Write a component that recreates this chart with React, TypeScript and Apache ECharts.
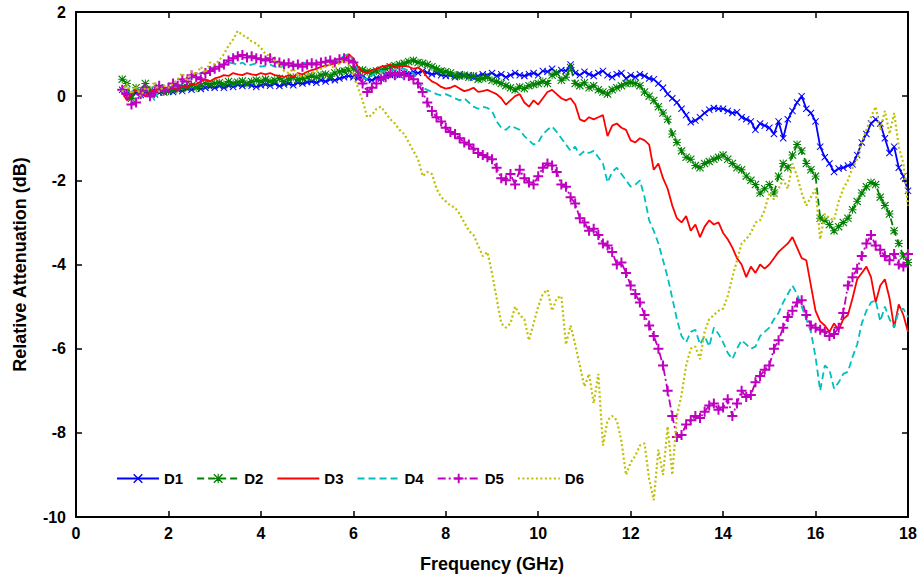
import React, { useEffect, useRef } from "react";
import * as echarts from "echarts";

// Frequency grid (GHz): 1.0 to 18.0, step 0.1
const freqs: number[] = Array.from({ length: 171 }, (_, i) => Math.round((1 + i * 0.1) * 10) / 10);

const seriesNames = ["D1", "D2", "D3", "D4", "D5", "D6"];

const d1 = [
  0.15, 0.05, 0.0, 0.08, 0.03, 0.1, 0.05, 0.12, 0.08, 0.1, 0.12,
  0.1, 0.15, 0.12, 0.18, 0.15, 0.2, 0.17, 0.2, 0.22, 0.2,
  0.24, 0.2, 0.25, 0.22, 0.27, 0.24, 0.28, 0.25, 0.22, 0.26,
  0.28, 0.25, 0.3, 0.24, 0.28, 0.3, 0.26, 0.32, 0.3, 0.33,
  0.35, 0.32, 0.38, 0.35, 0.4, 0.38, 0.42, 0.45, 0.48, 0.45,
  0.42, 0.46, 0.4, 0.38, 0.44, 0.42, 0.48, 0.5, 0.52, 0.5,
  0.55, 0.52, 0.58, 0.55, 0.6, 0.56, 0.52, 0.55, 0.5, 0.48,
  0.5, 0.45, 0.52, 0.48, 0.5, 0.44, 0.48, 0.52, 0.5, 0.55,
  0.48, 0.52, 0.45, 0.5, 0.55, 0.5, 0.48, 0.52, 0.55, 0.5,
  0.6, 0.58, 0.65, 0.55, 0.62, 0.6, 0.75, 0.55, 0.5, 0.58,
  0.52, 0.48, 0.55, 0.6, 0.5, 0.45, 0.52, 0.55, 0.42, 0.5,
  0.45, 0.52, 0.48, 0.42, 0.4, 0.3, 0.2, 0.05, -0.05, -0.15,
  -0.3, -0.45, -0.62, -0.58, -0.5, -0.4, -0.32, -0.28, -0.3, -0.3,
  -0.35, -0.4, -0.38, -0.5, -0.55, -0.6, -0.8, -0.65, -0.7, -0.75,
  -0.9, -0.6, -1.0, -0.55, -0.35, -0.15, 0.0, -0.3, -0.4, -0.6,
  -1.2, -1.45, -1.6, -1.8, -1.72, -1.7, -1.65, -1.62, -1.4, -1.1,
  -0.9, -0.65, -0.55, -0.65, -1.0, -1.35, -1.2, -1.7, -1.9, -2.25,
];

const d2 = [
  0.4, 0.3, -0.05, 0.2, 0.1, 0.3, 0.15, 0.05, 0.2, 0.1, 0.12,
  0.15, 0.18, 0.2, 0.22, 0.25, 0.2, 0.25, 0.3, 0.28, 0.3,
  0.32, 0.28, 0.35, 0.3, 0.33, 0.36, 0.3, 0.35, 0.38, 0.35,
  0.4, 0.35, 0.38, 0.42, 0.35, 0.4, 0.45, 0.4, 0.42, 0.45,
  0.48, 0.45, 0.5, 0.52, 0.48, 0.55, 0.58, 0.6, 0.62, 0.65,
  0.6, 0.62, 0.58, 0.55, 0.6, 0.62, 0.65, 0.7, 0.72, 0.75,
  0.78, 0.82, 0.85, 0.8, 0.78, 0.75, 0.7, 0.65, 0.6, 0.58,
  0.55, 0.5, 0.48, 0.5, 0.45, 0.48, 0.4, 0.42, 0.45, 0.38,
  0.35, 0.3, 0.25, 0.2, 0.15, 0.22, 0.18, 0.25, 0.28, 0.3,
  0.35, 0.3, 0.5, 0.55, 0.38, 0.45, 0.68, 0.3, 0.25, 0.32,
  0.2, 0.25, 0.15, 0.1, 0.05, 0.15, 0.2, 0.25, 0.3, 0.32,
  0.3, 0.25, 0.1, 0.0, -0.1, -0.25, -0.4, -0.55, -0.9, -1.1,
  -1.3, -1.45, -1.5, -1.65, -1.7, -1.6, -1.55, -1.5, -1.45, -1.4,
  -1.5, -1.6, -1.7, -1.75, -1.9, -2.0, -2.1, -2.3, -2.2, -2.1,
  -2.3, -1.9, -1.6, -1.7, -1.4, -1.15, -1.3, -1.6, -1.75, -1.9,
  -2.9, -2.95, -3.05, -3.2, -3.1, -3.0, -2.9, -2.7, -2.5, -2.3,
  -2.15, -2.05, -2.1, -2.4, -2.6, -2.8, -3.2, -3.5, -3.8, -3.95,
];

const d3 = [
  0.1, -0.1, 0.05, 0.15, 0.05, 0.0, 0.1, 0.15, 0.12, 0.15, 0.2,
  0.18, 0.15, 0.25, 0.2, 0.3, 0.28, 0.35, 0.4, 0.35, 0.42,
  0.45, 0.5, 0.48, 0.55, 0.52, 0.5, 0.55, 0.52, 0.5, 0.55,
  0.52, 0.55, 0.5, 0.48, 0.45, 0.5, 0.45, 0.55, 0.52, 0.58,
  0.62, 0.65, 0.7, 0.72, 0.75, 0.78, 0.8, 0.85, 1.0, 0.9,
  0.7, 0.58, 0.55, 0.62, 0.65, 0.7, 0.72, 0.75, 0.68, 0.7,
  0.72, 0.7, 0.65, 0.68, 0.6, 0.45, 0.35, 0.3, 0.22, 0.18,
  0.2, 0.25, 0.18, 0.12, 0.15, 0.2, 0.1, 0.12, 0.15, 0.1,
  0.05, -0.05, -0.2, -0.1, 0.0, 0.05, -0.15, -0.25, -0.1, -0.2,
  -0.05, 0.1, 0.15, 0.05, -0.05, -0.1, -0.05, -0.2, -0.55, -0.6,
  -0.5, -0.55, -0.5, -0.45, -0.95, -0.7, -0.65, -0.75, -0.8, -1.05,
  -1.1, -1.0, -1.05, -1.15, -1.75, -1.6, -1.95, -2.2, -2.6, -2.9,
  -3.0, -2.85, -3.2, -3.05, -3.35, -3.1, -2.95, -3.05, -3.0, -3.25,
  -3.4, -3.6, -3.85, -4.0, -4.3, -4.05, -4.2, -4.0, -4.1, -4.0,
  -3.85, -3.7, -3.6, -3.5, -3.35, -3.6, -3.85, -3.9, -4.5, -5.1,
  -5.35, -5.45, -5.6, -5.4, -5.55, -5.3, -5.2, -4.8, -4.35, -4.2,
  -4.05, -4.3, -4.9, -4.5, -4.35, -4.8, -5.5, -4.95, -5.2, -5.6,
];

const d4 = [
  0.2, 0.0, 0.1, 0.2, 0.05, 0.15, 0.1, -0.1, 0.2, 0.15, 0.2,
  0.25, 0.2, 0.3, 0.4, 0.45, 0.5, 0.55, 0.6, 0.65, 0.7,
  0.72, 0.75, 0.8, 0.78, 0.75, 0.8, 0.72, 0.75, 0.78, 0.7,
  0.72, 0.75, 0.7, 0.68, 0.72, 0.75, 0.7, 0.72, 0.78, 0.8,
  0.75, 0.78, 0.82, 0.8, 0.85, 0.82, 0.9, 0.95, 1.0, 0.85,
  0.6, 0.45, 0.4, 0.5, 0.55, 0.6, 0.58, 0.62, 0.6, 0.65,
  0.65, 0.6, 0.55, 0.35, 0.2, 0.15, 0.1, 0.05, 0.02, 0.05,
  0.0, -0.05, -0.1, -0.05, -0.15, -0.25, -0.3, -0.25, -0.28, -0.35,
  -0.6, -0.75, -0.8, -0.7, -0.75, -0.8, -0.95, -1.05, -1.15, -1.1,
  -0.9, -0.8, -0.72, -0.85, -1.0, -1.15, -1.3, -1.2, -1.4, -1.3,
  -1.35, -1.3, -1.45, -1.6, -2.05, -1.8, -1.7, -1.85, -2.0, -2.15,
  -2.1, -2.0, -2.4, -2.95, -3.2, -3.5, -3.9, -4.3, -4.8, -5.3,
  -5.7, -5.85, -5.6, -5.55, -5.9, -5.7, -5.95, -5.5, -5.65, -5.85,
  -6.1, -6.25, -6.0, -5.8, -5.9, -6.0, -5.95, -5.7, -5.6, -5.5,
  -5.3, -5.15, -4.9, -4.7, -4.5, -4.7, -5.0, -5.3, -5.6, -6.2,
  -7.0, -6.4, -6.5, -6.95, -6.8, -6.6, -6.55, -6.2, -5.9, -5.4,
  -5.1, -4.9, -4.85, -5.35, -5.0, -5.3, -5.5, -5.1, -5.05, -5.25,
];

const d5 = [
  0.15, 0.05, -0.2, -0.15, 0.05, 0.2, 0.0, 0.1, 0.25, 0.15, 0.2,
  0.3, 0.25, 0.4, 0.35, 0.5, 0.45, 0.4, 0.55, 0.6, 0.65,
  0.7, 0.75, 0.85, 0.9, 0.95, 0.98, 0.92, 0.95, 0.9, 0.88,
  0.85, 0.9, 0.82, 0.8, 0.75, 0.78, 0.72, 0.75, 0.7, 0.75,
  0.78, 0.75, 0.8, 0.82, 0.85, 0.8, 0.88, 0.9, 0.85, 0.8,
  0.5, 0.3, 0.1, 0.2, 0.3, 0.4, 0.45, 0.55, 0.5, 0.55,
  0.5, 0.48, 0.4, 0.3, 0.1, -0.15, -0.35, -0.5, -0.6, -0.75,
  -0.85, -0.9, -1.0, -1.1, -1.15, -1.25, -1.35, -1.4, -1.45, -1.5,
  -1.7, -1.95, -2.0, -1.85, -2.1, -1.75, -1.95, -2.05, -2.1, -1.9,
  -1.7, -1.6, -1.65, -1.8, -2.1, -2.15, -2.4, -2.55, -2.9, -3.0,
  -3.2, -3.15, -3.3, -3.5, -3.55, -3.7, -4.0, -3.95, -4.2, -4.5,
  -4.7, -4.9, -5.2, -5.45, -5.7, -6.0, -6.4, -7.0, -7.6, -8.1,
  -8.05, -7.8, -7.7, -7.6, -7.65, -7.5, -7.35, -7.3, -7.45, -7.4,
  -7.2, -7.6, -7.3, -7.0, -7.15, -7.1, -6.8, -6.65, -6.5, -6.4,
  -6.0, -5.8, -5.5, -5.25, -5.1, -4.9, -4.85, -5.2, -5.45, -5.5,
  -5.55, -5.6, -5.7, -5.65, -5.5, -5.15, -4.5, -4.3, -4.1, -3.8,
  -3.5, -3.3, -3.55, -3.65, -3.8, -3.9, -3.75, -4.0, -4.05, -3.75,
];

const d6 = [
  0.1, 0.3, 0.05, 0.25, 0.0, 0.2, 0.15, 0.35, 0.1, 0.25, 0.2,
  0.3, 0.4, 0.55, 0.35, 0.6, 0.5, 0.7, 0.55, 0.8, 0.75,
  0.85, 1.0, 1.2, 1.35, 1.55, 1.45, 1.4, 1.3, 1.25, 1.15,
  1.0, 0.95, 0.85, 0.75, 0.6, 0.55, 0.65, 0.5, 0.45, 0.5,
  0.55, 0.6, 0.65, 0.7, 0.75, 0.65, 0.8, 0.85, 0.75, 0.5,
  0.2, -0.1, -0.5, -0.45, -0.3, -0.25, -0.4, -0.55, -0.65, -0.8,
  -0.9, -1.1, -1.3, -1.5, -1.9, -1.8, -1.85, -2.2, -2.4, -2.5,
  -2.6, -2.65, -2.8, -3.0, -3.2, -3.3, -3.55, -3.8, -3.7, -4.2,
  -4.8, -5.4, -5.5, -5.4, -5.0, -5.2, -5.3, -5.8, -5.4, -5.0,
  -4.7, -4.6, -5.1, -4.8, -4.75, -5.9, -5.45, -5.9, -6.4, -6.9,
  -6.6, -7.3, -6.6, -8.3, -7.7, -7.6, -7.7, -8.2, -9.0, -8.7,
  -8.55, -8.3, -8.25, -9.1, -9.6, -8.4, -9.0, -7.85, -9.0, -7.6,
  -7.1, -6.4, -6.0, -5.95, -6.25, -5.6, -5.3, -5.2, -5.1, -5.05,
  -4.75, -4.3, -3.9, -3.5, -3.4, -3.25, -3.0, -2.95, -2.7, -2.3,
  -2.45, -2.2, -1.98, -2.2, -1.6, -1.9, -2.3, -2.6, -2.4, -2.2,
  -3.4, -2.8, -2.9, -2.95, -2.5, -2.2, -2.0, -1.7, -1.5, -1.1,
  -0.8, -0.5, -0.25, -0.8, -0.35, -0.9, -0.4, -1.2, -1.6, -2.6,
];

const seriesValues = [d1, d2, d3, d4, d5, d6];
const xTicks = [0, 2, 4, 6, 8, 10, 12, 14, 16, 18];
const yTicks = [-10, -8, -6, -4, -2, 0, 2];

const colors = ["#0000ff", "#008000", "#ff0000", "#00bfbf", "#bf00bf", "#bfbf00"];
const dashes: any[] = ["solid", [7, 4], "solid", [7, 4], [8, 3, 2, 3], [2, 2.5]];
const widths = [1.8, 1.8, 1.8, 1.8, 1.8, 2.2];

const PLUS = "path://M4,0H6V4H10V6H6V10H4V6H0V4H4Z";
const XMARK = "path://M1,0L5,4L9,0L10,1L6,5L10,9L9,10L5,6L1,10L0,9L4,5L0,1Z";
const STAR =
  "path://M1,0L5,4L9,0L10,1L6,5L10,9L9,10L5,6L1,10L0,9L4,5L0,1Z M4.4,0H5.6V4.4H10V5.6H5.6V10H4.4V5.6H0V4.4H4.4Z";
const symbols = [XMARK, STAR, "none", "none", PLUS, "none"];
const symbolSizes = [7, 8, 0, 0, 10, 0];

const FONT = "Liberation Sans, Arial, sans-serif";

export default function App() {
  const ref = useRef<HTMLDivElement>(null);
  useEffect(() => {
    if (!ref.current) return;
    const chart = echarts.init(ref.current, null, { renderer: "svg" });
    const series = seriesNames.map((name, k) => ({
      name,
      type: "line",
      data: freqs.map((f, i) => [f, seriesValues[k][i]]),
      symbol: symbols[k],
      symbolSize: symbolSizes[k],
      showSymbol: symbols[k] !== "none",
      lineStyle: { color: colors[k], width: widths[k], type: dashes[k] },
      itemStyle: { color: colors[k], borderColor: colors[k], borderWidth: 0 },
      emphasis: { disabled: true },
      z: 2 + k,
    }));
    const legendData = seriesNames.map((name, k) =>
      symbols[k] === "none"
        ? { name, itemStyle: { opacity: 0 } }
        : { name, itemStyle: { opacity: 1, color: colors[k] } }
    );
    const axisLine = { show: true, onZero: false, lineStyle: { color: "#000", width: 2 } };
    const axisTick = { show: true, inside: true, length: 6, lineStyle: { color: "#000", width: 1.5 } };
    const labelStyle = { color: "#000", fontFamily: FONT, fontWeight: "bold" as const, fontSize: 16 };
    chart.setOption({
      animation: false,
      backgroundColor: "#fff",
      grid: { left: 76, right: 14, top: 12, bottom: 62, containLabel: false },
      legend: {
        data: legendData,
        left: 111,
        top: 466,
        itemWidth: 42,
        itemHeight: 12,
        itemGap: 13,
        textStyle: { color: "#000", fontFamily: FONT, fontWeight: "bold", fontSize: 15 },
      },
      xAxis: [
        {
          type: "value",
          min: 0,
          max: 18,
          interval: 2,
          name: "Frequency (GHz)",
          nameLocation: "middle",
          nameGap: 38,
          nameTextStyle: { ...labelStyle, fontSize: 18 },
          axisLine,
          axisTick,
          axisLabel: { ...labelStyle, margin: 8, customValues: xTicks },
          splitLine: { show: false },
        },
        {
          type: "value",
          position: "top",
          min: 0,
          max: 18,
          interval: 2,
          axisLine,
          axisTick,
          axisLabel: { show: false },
          splitLine: { show: false },
        },
      ],
      yAxis: [
        {
          type: "value",
          min: -10,
          max: 2,
          interval: 2,
          name: "Relative Attenuation (dB)",
          nameLocation: "middle",
          nameGap: 47,
          nameTextStyle: { ...labelStyle, fontSize: 18 },
          axisLine,
          axisTick,
          axisLabel: { ...labelStyle, margin: 10, customValues: yTicks },
          splitLine: { show: false },
        },
        {
          type: "value",
          position: "right",
          min: -10,
          max: 2,
          interval: 2,
          axisLine,
          axisTick,
          axisLabel: { show: false },
          splitLine: { show: false },
        },
      ],
      series,
    });
    return () => chart.dispose();
  }, []);
  return <div ref={ref} style={{ width: 922, height: 579, position: "absolute", left: 0, top: 0 }} />;
}
